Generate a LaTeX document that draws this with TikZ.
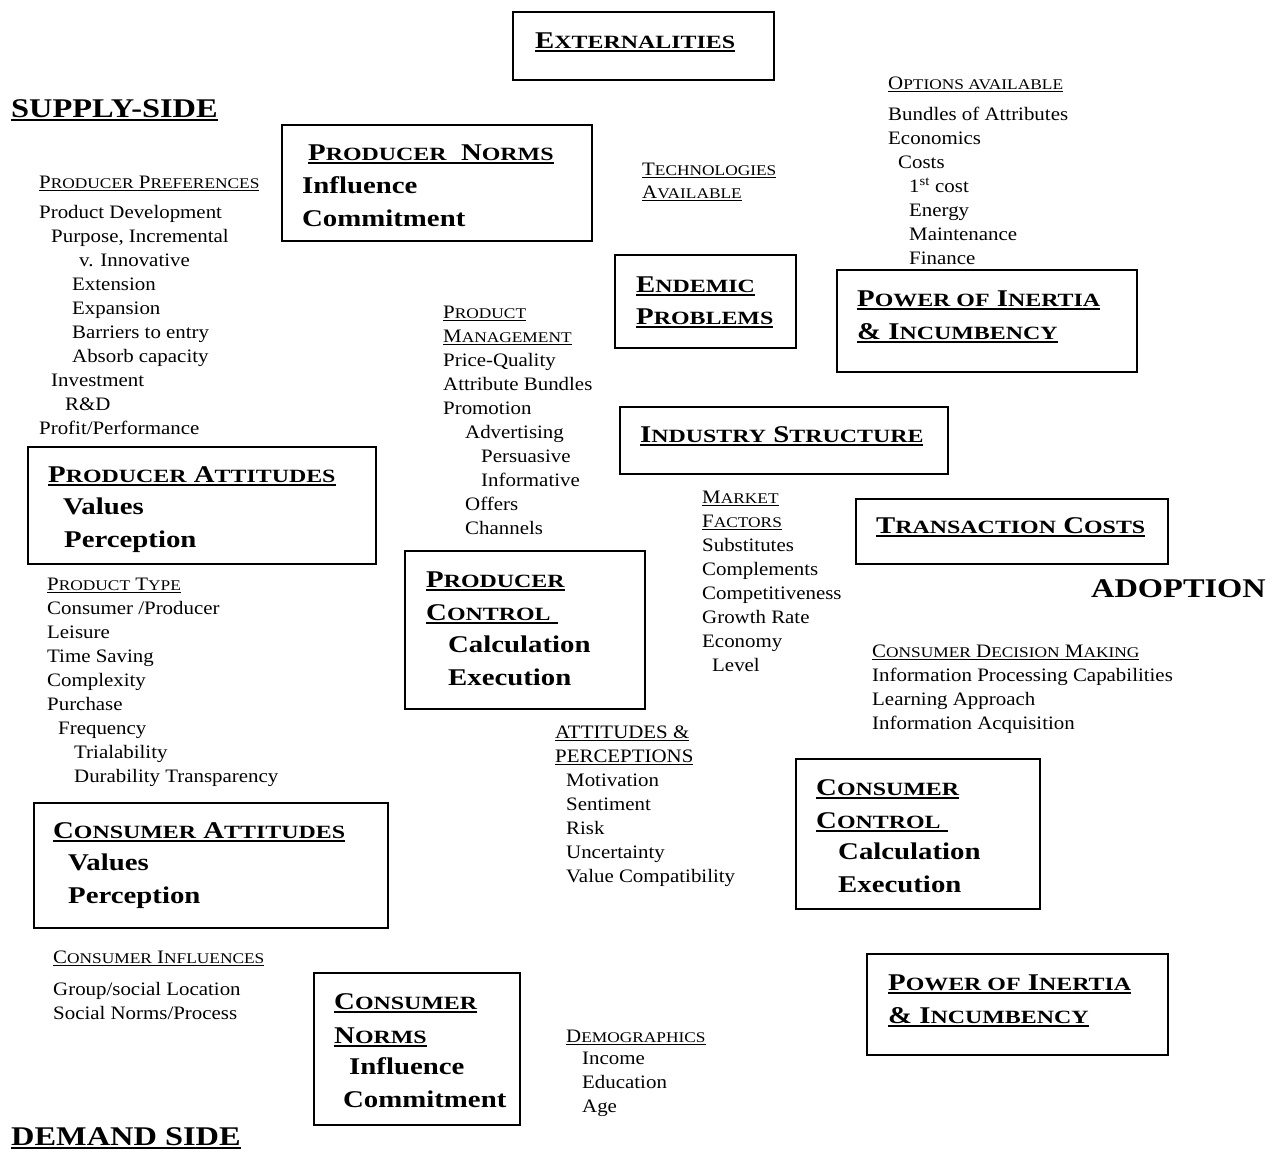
\documentclass[tikz,border=0pt]{standalone}
\usepackage{fontspec}
\usepackage{graphicx}
\setmainfont{Liberation Serif}[FakeStretch=1.10, BoldFeatures={FakeStretch=1.2}]

% small capitals built from scaled upper case
\newcommand\smc[1]{\scalebox{0.83}[0.78]{#1}}
% underlines: thin for plain headings, heavy for bold headings
\newcommand\ulr[1]{\setbox0=\hbox{#1}\rlap{\rule[-2.6pt]{\wd0}{1.1pt}}\box0}
\newcommand\ulb[1]{\setbox0=\hbox{#1}\rlap{\rule[-3.8pt]{\wd0}{1.9pt}}\box0}
% a left-aligned block whose baseline is that of its first line
\newcommand\blk[1]{\begin{tabular}[t]{@{}l@{}}#1\end{tabular}}

\tikzset{
  frame/.style={draw, line width=2pt, inner sep=0pt, anchor=north west},
  body/.style={anchor=base west, inner sep=0pt, font=\fontsize{19}{24}\selectfont},
  head/.style={anchor=base west, inner sep=0pt, font=\bfseries\fontsize{24}{33}\selectfont},
  side/.style={anchor=base west, inner sep=0pt, font=\bfseries\fontsize{27}{30}\selectfont},
}

\begin{document}
\begin{tikzpicture}[x=1pt,y=-1pt]
\useasboundingbox (0,0) rectangle (1277,1159);

% ---- framed factors ----
\node[frame, minimum width=261pt, minimum height=68pt]  (extbox)    at (512,11)  {};
\node[frame, minimum width=310pt, minimum height=116pt] (pnormbox)  at (281,124) {};
\node[frame, minimum width=181pt, minimum height=93pt]  (endbox)    at (614,254) {};
\node[frame, minimum width=300pt, minimum height=102pt] (inertabox) at (836,269) {};
\node[frame, minimum width=328pt, minimum height=67pt]  (indbox)    at (619,406) {};
\node[frame, minimum width=312pt, minimum height=65pt]  (transbox)  at (855,498) {};
\node[frame, minimum width=348pt, minimum height=117pt] (pattbox)   at (27,446)  {};
\node[frame, minimum width=240pt, minimum height=158pt] (pctrlbox)  at (404,550) {};
\node[frame, minimum width=244pt, minimum height=150pt] (cctrlbox)  at (795,758) {};
\node[frame, minimum width=354pt, minimum height=125pt] (cattbox)   at (33,802)  {};
\node[frame, minimum width=206pt, minimum height=152pt] (cnormbox)  at (313,972) {};
\node[frame, minimum width=301pt, minimum height=101pt] (inertbbox) at (866,953) {};

% ---- texts inside the frames ----
\node[head] (ext) at (535,48) {\ulb{E\smc{XTERNALITIES}}};
\node[head] (pnorm) at (302,160) {\blk{\hspace*{6pt}\ulb{P\smc{RODUCER}\ \ N\smc{ORMS}}\\ Influence\\ Commitment}};
\node[head] (endem) at (636,292) {\blk{\ulb{E\smc{NDEMIC}}\\[-1pt] \ulb{P\smc{ROBLEMS}}}};
\node[head] (inerta) at (857,306) {\blk{\ulb{P\smc{OWER OF} I\smc{NERTIA}}\\ \ulb{\& I\smc{NCUMBENCY}}}};
\node[head] (indus) at (640,442) {\ulb{I\smc{NDUSTRY} S\smc{TRUCTURE}}};
\node[head] (trans) at (876,533) {\ulb{T\smc{RANSACTION} C\smc{OSTS}}};
\node[head] (patt) at (48,482) {\blk{\ulb{P\smc{RODUCER} A\smc{TTITUDES}}\\[-1pt] \hspace*{15pt}Values\\ \hspace*{16pt}Perception}};
\node[head] (pctrl) at (426,587) {\blk{\ulb{P\smc{RODUCER}}\\ \ulb{C\smc{ONTROL}\ }\\[-1pt] \hspace*{22pt}Calculation\\ \hspace*{22pt}Execution}};
\node[head] (cctrl) at (816,795) {\blk{\ulb{C\smc{ONSUMER}}\\ \ulb{C\smc{ONTROL}\ }\\[-2pt] \hspace*{22pt}Calculation\\ \hspace*{22pt}Execution}};
\node[head] (catt) at (53,838) {\blk{\ulb{C\smc{ONSUMER} A\smc{TTITUDES}}\\[-1pt] \hspace*{15pt}Values\\ \hspace*{15pt}Perception}};
\node[head] (cnorm) at (334,1009) {\blk{\ulb{C\smc{ONSUMER}}\\[1pt] \ulb{N\smc{ORMS}}\\[-2pt] \hspace*{15pt}Influence\\ \hspace*{9pt}Commitment}};
\node[head] (inertb) at (888,990) {\blk{\ulb{P\smc{OWER OF} I\smc{NERTIA}}\\ \ulb{\& I\smc{NCUMBENCY}}}};

% ---- side titles ----
\node[side] (supply) at (11,117) {\ulb{SUPPLY-SIDE}};
\node[side] (adopt) at (1091,597) {ADOPTION};
\node[side] (demand) at (11,1145) {\ulb{DEMAND SIDE}};

% ---- lists of attributes ----
\node[body] (pprefs) at (39,188) {\blk{\ulr{P\smc{RODUCER} P\smc{REFERENCES}}\\[6pt]
  Product Development\\
  \hspace*{12pt}Purpose, Incremental\\
  \hspace*{40pt}v. Innovative\\
  \hspace*{33pt}Extension\\
  \hspace*{33pt}Expansion\\
  \hspace*{33pt}Barriers to entry\\
  \hspace*{33pt}Absorb capacity\\
  \hspace*{12pt}Investment\\
  \hspace*{26pt}R\&D\\
  Profit/Performance}};

\node[body] (techs) at (642,175) {\blk{\ulr{T\smc{ECHNOLOGIES}}\\[-1pt] \ulr{A\smc{VAILABLE}}}};

\node[body] (opts) at (888,89) {\blk{\ulr{O\smc{PTIONS AVAILABLE}}\\[7pt]
  Bundles of Attributes\\
  Economics\\
  \hspace*{10pt}Costs\\
  \hspace*{21pt}1\textsuperscript{st} cost\\
  \hspace*{21pt}Energy\\
  \hspace*{21pt}Maintenance\\
  \hspace*{21pt}Finance}};

\node[body] (pmgmt) at (443,318) {\blk{\ulr{P\smc{RODUCT}}\\
  \ulr{M\smc{ANAGEMENT}}\\
  Price-Quality\\
  Attribute Bundles\\
  Promotion\\
  \hspace*{22pt}Advertising\\
  \hspace*{38pt}Persuasive\\
  \hspace*{38pt}Informative\\
  \hspace*{22pt}Offers\\
  \hspace*{22pt}Channels}};

\node[body] (mkt) at (702,503) {\blk{\ulr{M\smc{ARKET}}\\
  \ulr{F\smc{ACTORS}}\\
  Substitutes\\
  Complements\\
  Competitiveness\\
  Growth Rate\\
  Economy\\
  \hspace*{10pt}Level}};

\node[body] (ptype) at (47,590) {\blk{\ulr{P\smc{RODUCT} T\smc{YPE}}\\
  Consumer /Producer\\
  Leisure\\
  Time Saving\\
  Complexity\\
  Purchase\\
  \hspace*{11pt}Frequency\\
  \hspace*{27pt}Trialability\\
  \hspace*{27pt}Durability Transparency}};

\node[body] (attp) at (555,738) {\blk{\ulr{ATTITUDES \&}\\
  \ulr{PERCEPTIONS}\\
  \hspace*{11pt}Motivation\\
  \hspace*{11pt}Sentiment\\
  \hspace*{11pt}Risk\\
  \hspace*{11pt}Uncertainty\\
  \hspace*{11pt}Value Compatibility}};

\node[body] (cdm) at (872,657) {\blk{\ulr{C\smc{ONSUMER} D\smc{ECISION} M\smc{AKING}}\\
  Information Processing Capabilities\\
  Learning Approach\\
  Information Acquisition}};

\node[body] (cinfl) at (53,963) {\blk{\ulr{C\smc{ONSUMER} I\smc{NFLUENCES}}\\[8pt]
  Group/social Location\\
  Social Norms/Process}};

\node[body] (demog) at (566,1042) {\blk{\ulr{D\smc{EMOGRAPHICS}}\\[-2pt]
  \hspace*{16pt}Income\\
  \hspace*{16pt}Education\\
  \hspace*{16pt}Age}};

\end{tikzpicture}
\end{document}
